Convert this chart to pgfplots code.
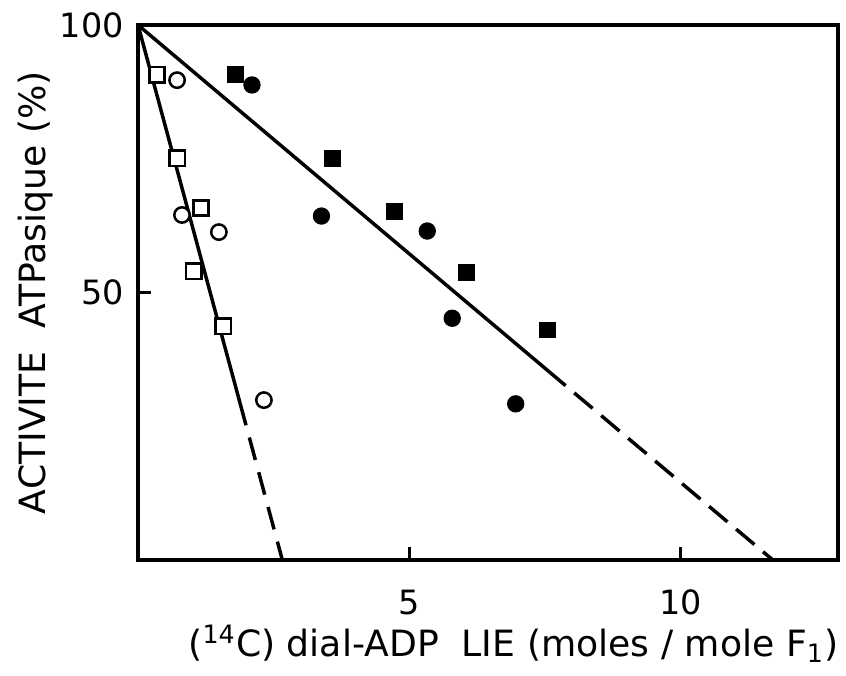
\documentclass[border=0pt]{standalone}
\usepackage{fontspec}
\setmainfont{DejaVu Sans}
\usepackage{pgfplots}
\pgfplotsset{compat=1.18}
\usetikzlibrary{calc}

\begin{document}
\begin{tikzpicture}
\begin{axis}[
  scale only axis,
  width=9.93cm, height=7.59cm,
  xmin=0, xmax=12.9, ymin=0, ymax=100,
  axis line style={line width=1.6pt},
  xtick={5,10}, ytick={50,100},
  tick align=inside, xtick pos=left, ytick pos=left,
  major tick length=0.18cm,
  tick style={line width=1.3pt, black},
  /pgf/number format/assume math mode=true,
  ticklabel style={font=\fontsize{13.5}{15}\selectfont},
  xticklabel style={yshift=-0.3cm},
  yticklabel style={xshift=-0.08cm},
  xlabel={(\textsuperscript{14}C) dial-ADP\ \ LIE (moles / mole F\textsubscript{1})},
  ylabel={ACTIVITE\ \ ATPasique (\%)},
  label style={font=\fontsize{14.6}{17}\selectfont},
  xlabel style={at={(axis description cs:0.5,0)}, anchor=center, yshift=-1.19cm, xshift=0.36cm},
  ylabel style={at={(axis description cs:-0.147,0.5)}, anchor=center},
  clip=false,
]
\coordinate (SW) at (rel axis cs:0,0);
\coordinate (NE) at (rel axis cs:1,1);
% fitted lines
\addplot[line width=1.4pt, black] coordinates {(0,100) (1.99,25.2)};
\addplot[line width=1.4pt, black, dash pattern=on 0.33cm off 0.18cm, dash phase=0.33cm] coordinates {(1.99,25.2) (2.66,0)};
\addplot[line width=1.4pt, black] coordinates {(0,100) (7.88,32.6)};
\addplot[line width=1.4pt, black, dash pattern=on 0.34cm off 0.16cm, dash phase=0.34cm] coordinates {(7.88,32.6) (11.7,0)};
% open squares
\addplot[only marks, mark=square*, mark size=3.1pt, mark options={fill=white, draw=black, line width=1pt}] coordinates {
(0.35,90.7) (0.72,75.1) (1.16,65.8) (1.03,54.0) (1.57,43.7)};
% open circles
\addplot[only marks, mark=*, mark size=3.1pt, mark options={fill=white, draw=black, line width=1pt}] coordinates {
(0.72,89.7) (0.81,64.5) (1.49,61.3) (2.32,29.9)};
% filled squares
\addplot[only marks, mark=square*, mark size=3.2pt, mark options={fill=black, draw=black}] coordinates {
(1.79,90.7) (3.58,75.1) (4.72,65.2) (6.05,53.8) (7.55,43.0)};
% filled circles
\addplot[only marks, mark=*, mark size=3.3pt, mark options={fill=black, draw=black}] coordinates {
(2.10,88.8) (3.38,64.3) (5.33,61.5) (5.79,45.2) (6.96,29.2)};
\end{axis}
\pgfresetboundingbox
\path ($(SW)+(-1.958cm,-1.631cm)$) rectangle ($(NE)+(0.113cm,0.355cm)$);
\end{tikzpicture}
\end{document}
